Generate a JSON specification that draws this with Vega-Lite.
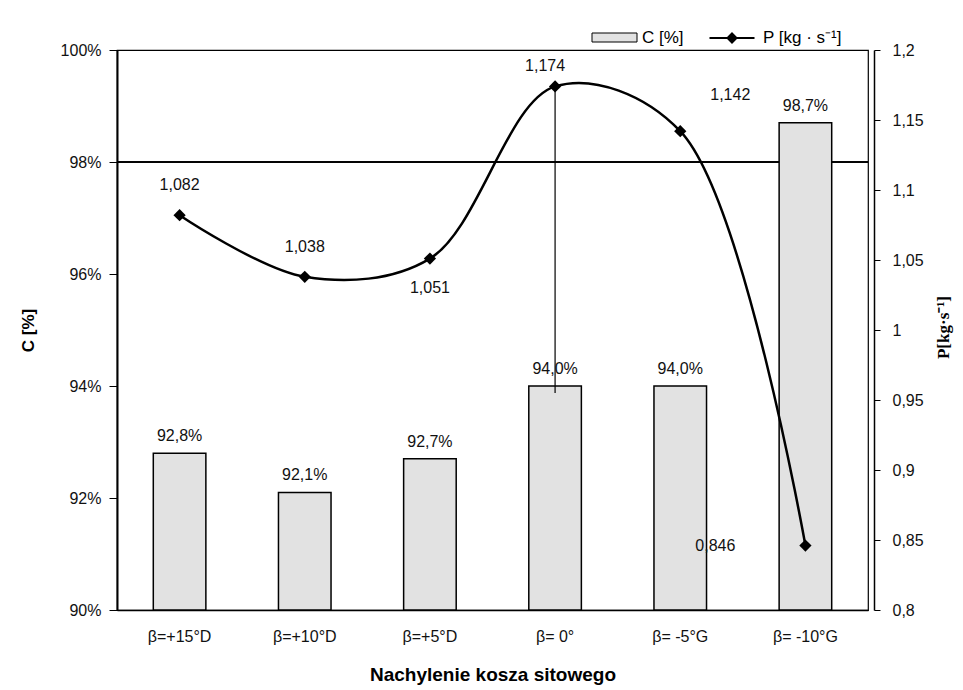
{
  "$schema": "https://vega.github.io/schema/vega-lite/v6.json",
  "width": 751,
  "height": 560,
  "autosize": "none",
  "padding": {"left": 117, "top": 50, "right": 95, "bottom": 80},
  "background": "white",
  "config": {
    "locale": {"number": {"decimal": ",", "thousands": " ", "grouping": [3], "currency": ["", " zł"]}},
    "font": "Liberation Sans",
    "view": {"stroke": "black", "strokeWidth": 1.2},
    "axis": {"labelFont": "Liberation Sans", "labelFontSize": 16, "labelColor": "#111", "domainColor": "black", "tickColor": "black", "titleColor": "black"}
  },
  "data": {
    "values": [
      {"k": "β=+15°D", "C": 0.928, "P": 1.082},
      {"k": "β=+10°D", "C": 0.921, "P": 1.038},
      {"k": "β=+5°D", "C": 0.927, "P": 1.051},
      {"k": "β= 0°", "C": 0.940, "P": 1.174},
      {"k": "β= -5°G", "C": 0.940, "P": 1.142},
      {"k": "β= -10°G", "C": 0.987, "P": 0.846}
    ]
  },
  "encoding": {
    "x": {
      "field": "k", "type": "nominal", "sort": null,
      "scale": {"paddingInner": 0.58, "paddingOuter": 0.29},
      "axis": {"title": "Nachylenie kosza sitowego", "titleFontSize": 19, "titleFontWeight": "bold", "titleFont": "Liberation Sans", "titleY": 64, "titleBaseline": "middle", "labelAngle": 0, "ticks": false, "labelPadding": 18, "domainWidth": 1.5}
    }
  },
  "layer": [
    {
      "layer": [
        {
          "mark": {"type": "rule", "color": "black", "strokeWidth": 1},
          "encoding": {"x": null, "y": {"datum": 0.98, "type": "quantitative"}}
        },
        {
          "mark": {"type": "bar", "stroke": "black", "strokeWidth": 1.5, "fill": "#e2e2e2"},
          "encoding": {
            "y": {
              "field": "C", "type": "quantitative",
              "scale": {"domain": [0.9, 1.0], "nice": false, "zero": false},
              "axis": {"title": "C [%]", "titleFontSize": 17, "titleFontWeight": "bold", "titleX": -80, "titleY": 280, "format": ".0%", "values": [0.9, 0.92, 0.94, 0.96, 0.98, 1.0], "grid": false, "tickSize": 8, "labelPadding": 8, "domainWidth": 2}
            },
            "y2": {"datum": 0.9},
            "fill": {"datum": "C [%]", "type": "nominal", "scale": {"range": ["#e2e2e2"]},
              "legend": {"orient": "none", "legendX": 482, "legendY": -28, "title": null, "padding": 0, "symbolType": "M-1.5,-0.3H1.5V0.3H-1.5Z", "symbolSize": 900, "symbolStrokeColor": "black", "symbolStrokeWidth": 1, "symbolFillColor": "#e2e2e2", "labelOffset": 12, "labelFontSize": 17, "labelFont": "Liberation Sans", "labelColor": "black"}}
          }
        },
        {
          "mark": {"type": "text", "baseline": "bottom", "dy": -9, "fontSize": 16, "color": "#111"},
          "encoding": {"y": {"field": "C", "type": "quantitative"}, "text": {"field": "C", "type": "quantitative", "format": ".1%"}}
        }
      ]
    },
    {
      "layer": [
        {
          "transform": [{"filter": "datum.k == 'β= 0°'"}],
          "mark": {"type": "rule", "color": "black", "strokeWidth": 1.2},
          "encoding": {"y": {"field": "P", "type": "quantitative"}, "y2": {"datum": 0.955}}
        },
        {
          "mark": {"type": "line", "interpolate": "catmull-rom", "strokeWidth": 2.5},
          "encoding": {
            "y": {
              "field": "P", "type": "quantitative",
              "scale": {"domain": [0.8, 1.2], "nice": false, "zero": false},
              "axis": {"orient": "right", "offset": 6, "title": "P[kg·s⁻¹]", "titleFont": "Liberation Serif", "titleFontSize": 17, "titleFontWeight": "bold", "titleAngle": 270, "titleX": 69, "titleY": 277, "titleBaseline": "middle", "titleAlign": "center", "format": "~g", "values": [0.8, 0.85, 0.9, 0.95, 1.0, 1.05, 1.1, 1.15, 1.2], "grid": false, "tickSize": 6, "labelPadding": 12, "domainWidth": 1.5}
            },
            "stroke": {"datum": "P [kg · s⁻¹]", "type": "nominal", "scale": {"range": ["black"]},
              "legend": {"orient": "none", "legendX": 599, "legendY": -28, "title": null, "padding": 0, "symbolType": "M-1.5,0H1.5M0,-0.3L0.3,0L0,0.3L-0.3,0Z", "symbolSize": 900, "symbolStrokeColor": "black", "symbolFillColor": "black", "symbolStrokeWidth": 2, "labelOffset": 15, "labelFontSize": 17, "labelFont": "Liberation Sans", "labelColor": "black"}}
          }
        },
        {
          "mark": {"type": "point", "shape": "diamond", "filled": true, "color": "black", "size": 150, "opacity": 1},
          "encoding": {"y": {"field": "P", "type": "quantitative"}}
        },
        {
          "transform": [{"filter": "datum.k == 'β=+15°D' || datum.k == 'β=+10°D'"}],
          "mark": {"type": "text", "baseline": "middle", "dy": -30, "fontSize": 16, "color": "#111"},
          "encoding": {"y": {"field": "P", "type": "quantitative"}, "text": {"field": "P", "type": "quantitative", "format": ".3f"}}
        },
        {
          "transform": [{"filter": "datum.k == 'β=+5°D'"}],
          "mark": {"type": "text", "baseline": "middle", "dy": 29, "fontSize": 16, "color": "#111"},
          "encoding": {"y": {"field": "P", "type": "quantitative"}, "text": {"field": "P", "type": "quantitative", "format": ".3f"}}
        },
        {
          "transform": [{"filter": "datum.k == 'β= 0°'"}],
          "mark": {"type": "text", "baseline": "middle", "dy": -20, "dx": -10, "fontSize": 16, "color": "#111"},
          "encoding": {"y": {"field": "P", "type": "quantitative"}, "text": {"field": "P", "type": "quantitative", "format": ".3f"}}
        },
        {
          "transform": [{"filter": "datum.k == 'β= -5°G'"}],
          "mark": {"type": "text", "baseline": "middle", "dy": -36, "dx": 50, "fontSize": 16, "color": "#111"},
          "encoding": {"y": {"field": "P", "type": "quantitative"}, "text": {"field": "P", "type": "quantitative", "format": ".3f"}}
        },
        {
          "transform": [{"filter": "datum.k == 'β= -10°G'"}],
          "mark": {"type": "text", "baseline": "middle", "align": "right", "dx": -70, "fontSize": 16, "color": "#111"},
          "encoding": {"y": {"field": "P", "type": "quantitative"}, "text": {"field": "P", "type": "quantitative", "format": ".3f"}}
        }
      ]
    }
  ],
  "resolve": {"scale": {"y": "independent"}}
}
